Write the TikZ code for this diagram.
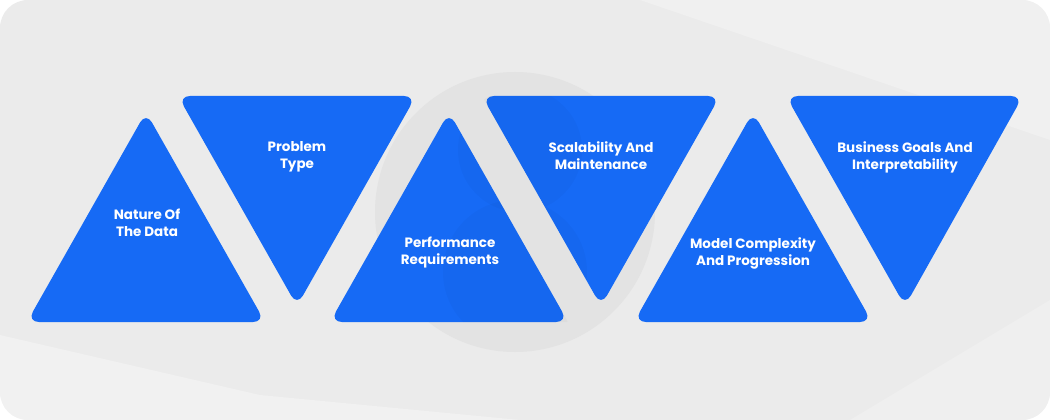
\documentclass[tikz,border=0pt]{standalone}
\usepackage{fontspec}
\setmainfont{Poppins}
\usepackage{tikz}
\usetikzlibrary{positioning}

\definecolor{tri}{HTML}{166AF5}
\definecolor{bg}{HTML}{EBEBEB}
\definecolor{ring}{HTML}{E3E3E3}

\tikzset{
  uptri/.style={fill=tri, draw=none, rounded corners=12pt},
  downtri/.style={fill=tri, draw=none, rounded corners=12pt},
  label/.style={text=white, font=\bfseries\fontsize{13.5}{17}\selectfont, align=center}
}

\begin{document}
\begin{tikzpicture}[x=1pt, y=-1pt]
    % background
    \useasboundingbox (0,0) rectangle (1050,420);
    \fill[white] (0,0) rectangle (1050,420);
    \fill[bg, rounded corners=28pt] (0,0) rectangle (1050,420);
    \begin{scope}
        \clip[rounded corners=28pt] (0,0) rectangle (1050,420);
        \fill[white, opacity=0.3] (0,335) -- (260,395) -- (520,420) -- (0,420) -- cycle;
        \fill[white, opacity=0.25] (640,0) -- (1050,0) -- (1050,140) -- cycle;
        \fill[white, opacity=0.2] (850,420) -- (1050,300) -- (1050,420) -- cycle;
    \end{scope}
    \fill[ring] (515,212) circle (140pt);

    % triangles pointing up
    \path[uptri] (146,112) -- (265,322) -- (27,322) -- cycle;
    \path[uptri] (449,112) -- (568,322) -- (330,322) -- cycle;
    \path[uptri] (753,112) -- (872,322) -- (634,322) -- cycle;

    % triangles pointing down
    \path[downtri] (178,96) -- (416,96) -- (297,306) -- cycle;
    \path[downtri] (482,96) -- (720,96) -- (601,306) -- cycle;
    \path[downtri] (786,96) -- (1023,96) -- (905,306) -- cycle;

    % faint rings over the middle
    \begin{scope}
        \clip (449,112) -- (568,322) -- (330,322) -- cycle
              (482,96) -- (720,96) -- (601,306) -- cycle;
        \fill[black, opacity=0.025] (520,150) circle (62pt);
        \fill[black, opacity=0.025] (515,272) circle (72pt);
    \end{scope}

    % labels
    \node[label] (nature) at (147,223) {Nature Of\\The Data};
    \node[label] (problem) at (297,157) {Problem\\Type};
    \node[label] (perf) at (450,253) {Performance\\Requirements};
    \node[label] (scale) at (601,156) {Scalability And\\Maintenance};
    \node[label] (model) at (753,253) {Model Complexity\\And Progression};
    \node[label] (goals) at (905,157) {Business Goals And\\Interpretability};
\end{tikzpicture}
\end{document}
